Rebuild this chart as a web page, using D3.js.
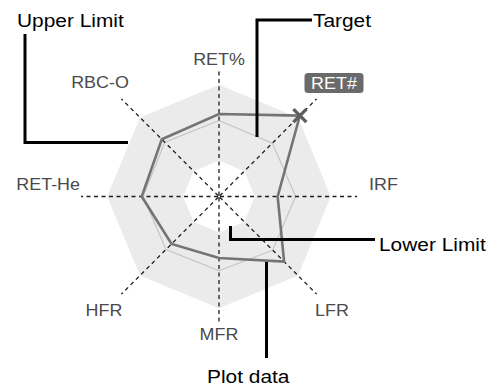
<!DOCTYPE html>
<html>
<head>
<meta charset="utf-8">
<script src="https://cdn.jsdelivr.net/npm/d3@7/dist/d3.min.js"></script>
<style>
  html, body { margin: 0; padding: 0; background: #fff; }
  svg { display: block; }
  text { font-family: "Liberation Sans", Arial, Helvetica, sans-serif; }
</style>
</head>
<body>
<svg id="chart" width="504" height="389"></svg>
<script>
// ---- data (units: percent of axis length) ----
const axes        = ["RET%", "RET#", "IRF", "LFR", "MFR", "HFR", "RET-He", "RBC-O"];
const upperLimit  = [81, 81, 81, 81, 81, 81, 81, 81];
const lowerLimit  = [26, 26, 26, 26, 26, 26, 26, 26];
const target      = [55, 54.7, 55.5, 55, 53.8, 54.3, 55, 55.6];
const plotData    = [59.8, 82.9, 42.5, 66.7, 44.6, 48.6, 56, 58.6];
const highlighted = "RET#";
const annotations = ["Upper Limit", "Target", "Lower Limit", "Plot data"];

// ---- layout ----
const svg = d3.select("#chart");
const cx = 219, cy = 196.5;
const r = d3.scaleLinear().domain([0, 100]).range([0, 138]);
const angle = d3.scalePoint().domain(axes).range([0, 2 * Math.PI * 7 / 8]);
const g = svg.append("g").attr("transform", `translate(${cx},${cy})`);

const radial = d3.lineRadial()
  .angle((d, i) => angle(axes[i]))
  .radius(d => r(d))
  .curve(d3.curveLinearClosed);

const xy = (name, v) => {
  const a = angle(name);
  return [Math.sin(a) * r(v), -Math.cos(a) * r(v)];
};

// band between limits
g.append("path").attr("d", radial(upperLimit)).attr("fill", "#ebebeb");
g.append("path").attr("d", radial(lowerLimit)).attr("fill", "#ffffff");

// target
g.append("path").attr("d", radial(target))
  .attr("fill", "none").attr("stroke", "#c2c2c2").attr("stroke-width", 1.1);

// dashed axes
axes.forEach((name, i) => {
  const len = (i % 4 === 0) ? 92 : 100;
  const [x2, y2] = xy(name, len);
  g.append("line")
    .attr("x1", 0).attr("y1", 0).attr("x2", x2).attr("y2", y2)
    .attr("stroke", "#1e1e1e").attr("stroke-width", 1.3)
    .attr("stroke-dasharray", "4,3.5")
    .attr("stroke-dashoffset", 6.5);
});

// plot data
g.append("path").attr("d", radial(plotData))
  .attr("fill", "none").attr("stroke", "#747474").attr("stroke-width", 2.6)
  .attr("stroke-linejoin", "miter");

// X marker on highlighted axis
{
  const k = axes.indexOf(highlighted);
  const [mx, my] = xy(highlighted, plotData[k]);
  const s = 6.5;
  g.append("path")
    .attr("d", `M${mx - s},${my - s}L${mx + s},${my + s}M${mx - s},${my + s}L${mx + s},${my - s}`)
    .attr("stroke", "#5e5e5e").attr("stroke-width", 3.4).attr("fill", "none");
}

// axis labels
const labelPos = {
  "RET%":   [0, -137.5, "middle"],
  "RET#":   [115, -113.5, "middle"],
  "IRF":    [150, -12.5, "start"],
  "LFR":    [113, 113.5, "middle"],
  "MFR":    [0, 137.5, "middle"],
  "HFR":    [-115, 113.5, "middle"],
  "RET-He": [-139, -12.5, "end"],
  "RBC-O":  [-119, -114.5, "middle"]
};
const fs = 16, sx = 1.12;
axes.forEach(name => {
  const [lx, ly, anchor] = labelPos[name];
  const isHi = name === highlighted;
  if (isHi) {
    g.append("rect")
      .attr("x", lx - 29.5).attr("y", ly - 10)
      .attr("width", 59).attr("height", 20)
      .attr("rx", 3.5).attr("fill", "#6a6a6a");
  }
  g.append("text")
    .attr("transform", `translate(${lx},${ly + fs * 0.36}) scale(${sx},1)`)
    .attr("text-anchor", anchor)
    .attr("font-size", fs)
    .attr("fill", isHi ? "#ffffff" : "#4a4a4a")
    .text(name);
});

// annotation leaders
const leaders = [
  "M25,34V142.5H128",
  "M257,137V20H312",
  "M230.5,226V239.5H375",
  "M266.5,262V358"
];
svg.selectAll("path.leader").data(leaders).enter().append("path")
  .attr("class", "leader").attr("d", d => d)
  .attr("fill", "none").attr("stroke", "#000").attr("stroke-width", 3);

const annPos = [[17, 27], [313, 27], [379, 251], [207, 383]];
svg.selectAll("text.ann").data(annotations).enter().append("text")
  .attr("class", "ann")
  .attr("transform", (d, i) => `translate(${annPos[i][0]},${annPos[i][1]}) scale(1.13,1)`)
  .attr("font-size", 18.5)
  .attr("fill", "#000")
  .text(d => d);
</script>
</body>
</html>
